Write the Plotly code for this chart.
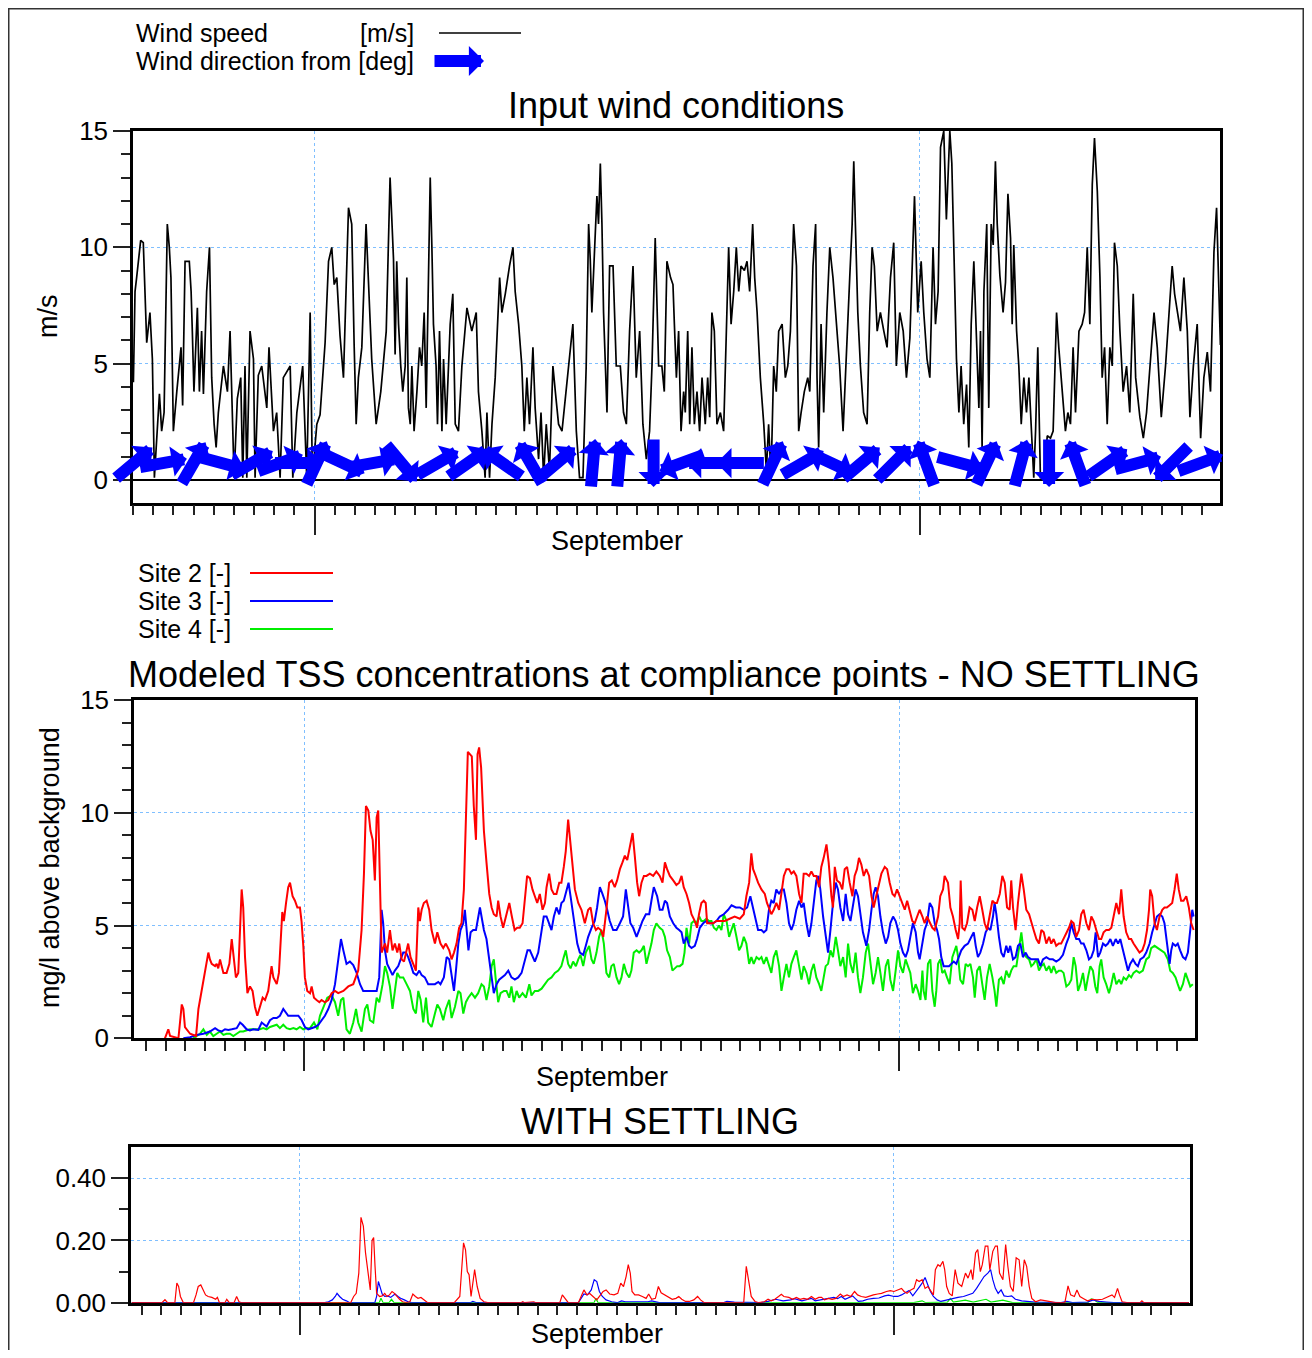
import math
import pandas as pd
import plotly.graph_objects as go

START = pd.Timestamp("2010-08-23 00:00")

# ---------------- data (day offset from START, value) ----------------
wind_speed = [(0.02,4.2),(0.10,8.1),(0.18,8.7),(0.38,10.3),(0.51,10.2),(0.60,8.0),(0.68,5.9),(0.84,7.2),(0.96,5.2),(1.06,0.1),(1.31,3.7),(1.42,2.1),(1.54,2.9),(1.70,11.0),(1.80,10.0),(1.88,8.7),(2.00,2.1),(2.17,3.8),(2.38,5.7),(2.46,3.2),(2.58,9.4),(2.79,9.4),(2.88,8.1),(2.94,6.4),(3.02,3.8),(3.19,7.4),(3.29,3.8),(3.40,6.4),(3.49,3.7),(3.65,8.1),(3.79,10.0),(3.90,4.4),(4.02,2.4),(4.12,1.4),(4.23,2.9),(4.48,4.9),(4.68,3.8),(4.81,6.4),(4.91,2.9),(5.01,0.1),(5.17,3.5),(5.34,4.4),(5.44,0.1),(5.55,4.9),(5.64,0.1),(5.80,6.4),(5.97,5.2),(6.05,0.1),(6.21,4.5),(6.38,4.9),(6.63,3.1),(6.74,5.7),(6.96,2.1),(7.12,2.9),(7.29,0.1),(7.45,4.4),(7.79,4.9),(7.92,0.1),(8.12,2.9),(8.41,4.9),(8.61,0.1),(8.78,7.2),(8.89,0.1),(9.11,2.4),(9.27,2.8),(9.52,5.9),(9.69,9.4),(9.85,10.0),(9.97,8.4),(10.10,8.7),(10.26,6.2),(10.43,4.4),(10.68,11.7),(10.84,11.0),(10.96,5.8),(11.06,2.4),(11.17,4.4),(11.34,5.7),(11.55,11.0),(11.67,8.8),(11.83,5.2),(12.05,2.4),(12.28,3.8),(12.55,6.4),
(12.74,13.0),(12.91,9.5),(12.99,5.4),(13.07,9.4),(13.16,6.7),(13.27,4.9),(13.37,3.8),(13.49,4.9),(13.57,8.7),(13.65,3.1),(13.74,2.4),(13.82,4.9),(13.93,2.1),(14.07,3.8),(14.20,5.7),(14.31,4.9),(14.43,7.2),(14.53,3.1),(14.61,6.7),(14.73,13.0),(14.81,10.1),(14.89,6.7),(15.02,4.9),(15.09,2.4),(15.19,6.4),(15.31,2.1),(15.39,5.2),(15.52,2.4),(15.72,6.7),(15.85,8.0),(15.97,2.4),(16.13,2.1),(16.30,4.9),(16.55,7.4),(16.79,6.4),(17.01,7.2),(17.12,3.8),(17.29,2.1),(17.45,0.1),(17.54,2.9),(17.67,0.1),(17.79,2.4),(17.95,4.4),(18.17,8.7),(18.28,7.2),(18.45,8.0),(18.66,9.2),(18.83,10.0),(18.94,8.1),(19.11,6.7),(19.27,4.9),(19.39,2.1),(19.52,4.4),(19.65,2.4),(19.82,5.7),(19.93,3.1),(20.10,0.9),(20.22,2.9),(20.35,0.1),(20.48,2.4),(20.64,0.4),(20.81,4.9),(20.93,3.8),(21.09,2.4),(21.26,2.1),(21.42,3.5),(21.59,4.9),(21.80,6.7),(21.97,2.1),(22.13,0.1),(22.30,0.1),(22.46,4.9),(22.58,11.0),(22.66,9.5),(22.74,7.2),(22.86,10.0),(22.99,12.2),(23.07,11.0),(23.16,13.6),(23.24,11.0),(23.32,7.2),(23.49,2.9),(23.62,9.2),(23.79,9.2),(23.95,4.9),(24.15,4.9),(24.31,2.9),(24.45,2.4),(24.61,6.4),(24.78,9.2),(24.94,4.4),(25.11,6.4),(25.27,2.4),(25.44,0.9),(25.60,2.1),(25.72,4.9),(25.88,10.4),(26.05,4.9),(26.21,4.9),(26.33,3.8),(26.46,9.4),(26.64,8.7),
(26.76,8.4),(26.83,6.7),(26.93,4.4),(27.04,6.4),(27.16,2.1),(27.29,3.8),(27.37,2.9),(27.49,6.4),(27.59,2.4),(27.70,5.7),(27.82,2.4),(27.95,3.8),(28.08,2.1),(28.20,4.4),(28.36,2.4),(28.48,4.4),(28.58,2.7),(28.69,7.2),(28.81,6.4),(28.94,2.4),(29.11,2.9),(29.27,2.1),(29.40,6.4),(29.52,10.0),(29.64,6.7),(29.77,8.1),(29.90,10.0),(30.02,8.1),(30.13,9.2),(30.30,9.0),(30.43,9.4),(30.56,8.1),(30.71,11.0),(30.81,8.7),(30.93,7.2),(31.09,4.4),(31.26,2.4),(31.39,0.4),(31.50,2.4),(31.62,0.1),(31.75,4.9),(31.88,3.8),(32.00,6.4),(32.17,6.7),(32.33,4.4),(32.45,4.9),(32.58,6.4),(32.74,11.0),(32.88,9.2),(32.99,2.1),(33.11,2.9),(33.27,3.8),(33.44,4.4),(33.54,3.8),(33.70,9.2),(33.83,11.0),(33.90,4.4),(33.98,1.4),(34.10,6.7),(34.23,2.9),(34.39,7.2),(34.53,10.0),(34.69,8.7),(34.86,6.7),(35.02,4.9),(35.19,2.1),(35.36,5.2),(35.52,8.7),(35.64,11.0),(35.72,13.7),(35.80,11.0),(35.92,7.2),(36.05,4.9),(36.21,2.9),(36.38,2.4),(36.51,7.2),(36.63,10.0),(36.74,9.2),(36.88,6.4),(37.04,7.2),(37.21,6.4),(37.37,5.7),(37.54,8.7),(37.70,10.2),(37.83,4.9),(38.00,7.2),(38.17,6.4),(38.33,4.4),(38.50,6.1),(38.63,10.0),(38.73,12.2),(38.89,7.2),(39.06,9.4),(39.19,7.2),(39.35,5.2),(39.49,4.4),(39.65,10.0),(39.77,6.7),(39.90,8.1),(40.02,14.3),(40.18,15.0),(40.31,11.2),(40.48,15.0),
(40.58,13.6),(40.71,9.5),(40.81,5.2),(40.93,2.9),(41.04,4.9),(41.17,2.4),(41.31,4.1),(41.42,1.4),(41.54,6.7),(41.67,9.4),(41.80,6.4),(41.92,3.1),(42.00,6.4),(42.08,1.4),(42.17,8.1),(42.31,11.0),(42.41,3.1),(42.53,11.0),(42.63,10.1),(42.74,13.7),(42.83,11.0),(42.96,8.8),(43.12,7.2),(43.24,8.5),(43.36,12.3),(43.49,10.4),(43.57,6.7),(43.65,10.1),(43.79,6.4),(43.90,4.9),(44.02,2.4),(44.15,4.4),(44.28,2.9),(44.40,4.4),(44.51,2.4),(44.64,0.1),(44.73,2.1),(44.84,5.7),(44.97,0.1),(45.14,0.1),(45.31,1.9),(45.47,1.8),(45.60,2.1),(45.77,7.2),(45.88,5.7),(46.05,3.8),(46.21,2.1),(46.33,2.9),(46.46,2.4),(46.59,5.7),(46.71,2.9),(46.88,6.4),(47.04,6.7),(47.16,7.2),(47.29,10.0),(47.42,6.7),(47.54,12.7),(47.65,14.7),(47.79,12.4),(47.92,8.7),(48.03,4.4),(48.15,5.7),(48.28,2.4),(48.41,5.7),(48.53,4.9),(48.64,10.2),(48.78,9.2),(48.91,6.4),(49.07,3.8),(49.24,4.9),(49.40,2.9),(49.57,8.0),(49.69,4.4),(49.90,2.7),(50.07,1.8),(50.23,2.9),(50.40,4.9),(50.60,7.2),(50.76,5.7),(50.96,2.7),(51.17,4.9),(51.34,7.2),(51.50,9.2),(51.62,8.0),(51.75,7.2),(51.91,6.4),(52.08,8.7),(52.25,6.4),(52.38,2.7),(52.55,4.9),(52.74,6.7),(52.91,1.8),(53.07,4.4),(53.24,5.5),(53.40,3.8),(53.57,9.8),(53.70,11.7),(53.81,8.1),(53.89,5.8)]

# wind direction arrows: (day, direction the wind comes from, degrees)
wind_arrow_day = [0.05,1.5,3.0,4.4,5.9,7.3,8.2,9.1,10.4,11.9,13.3,15.1,16.6,18.3,19.7,21.0,22.8,24.1,25.8,27.2,28.6,30.1,31.7,33.2,34.6,36.1,37.7,39.3,41.0,42.3,44.0,45.4,46.8,48.3,49.8,51.5,52.9]
wind_dir_from = [230,260,210,285,240,250,270,205,295,260,320,240,235,125,150,230,185,185,0,70,90,90,205,240,295,230,225,160,285,205,195,0,160,235,255,45,250]

site2_nosettle = [(1.97,0.0),(2.14,0.4),(2.23,0.1),(2.65,0.0),(2.73,0.7),(2.82,1.5),(2.90,1.3),(2.98,0.5),(3.24,0.2),(3.54,0.1),(3.66,1.3),(3.82,2.1),(3.99,3.0),(4.16,3.8),(4.24,3.5),(4.33,3.3),(4.50,3.2),(4.58,3.3),(4.66,3.1),(4.75,3.5),(4.83,3.2),(4.92,2.9),(5.08,2.9),(5.22,3.3),(5.34,4.4),(5.42,3.8),(5.55,2.7),(5.67,2.9),(5.76,5.1),(5.84,6.6),(5.92,5.8),(6.01,3.6),(6.13,2.0),(6.26,2.3),(6.39,2.1),(6.51,1.4),(6.63,1.0),(6.76,1.4),(6.90,1.8),(7.02,1.7),(7.18,2.1),(7.35,3.2),(7.44,2.7),(7.61,2.4),(7.72,2.9),(7.89,5.6),(7.97,5.2),(8.08,6.0),(8.19,6.7),(8.28,6.9),(8.41,6.3),(8.53,6.1),(8.65,5.8),(8.78,5.8),(8.86,5.2),(8.95,4.1),(9.03,2.7),(9.15,2.1),(9.29,2.0),(9.37,2.3),(9.49,1.8),(9.62,1.7),(9.76,1.6),(9.87,1.7),(10.04,1.6),(10.21,1.7),(10.38,2.0),(10.55,2.1),(10.71,2.0),(10.97,2.1),(11.22,2.3),(11.47,2.4),(11.72,3.0),(11.89,4.8),(12.01,7.3),(12.11,10.3),(12.23,10.1),(12.34,9.2),(12.45,8.8),(12.56,7.0),(12.65,9.8),(12.73,10.1),(12.80,7.0),
(12.90,3.8),(13.07,4.2),(13.18,3.8),(13.32,4.8),(13.45,3.9),(13.57,4.2),(13.69,3.8),(13.79,4.2),(13.91,3.5),(14.03,3.4),(14.13,3.8),(14.24,4.2),(14.36,3.6),(14.50,3.3),(14.63,3.0),(14.75,5.8),(14.83,5.2),(14.92,5.7),(15.03,6.0),(15.17,6.1),(15.30,5.7),(15.42,4.8),(15.59,4.2),(15.71,4.7),(15.87,4.2),(16.01,4.0),(16.14,4.2),(16.31,3.9),(16.43,3.5),(16.55,3.8),(16.68,4.2),(16.81,4.9),(16.93,5.1),(17.05,6.6),(17.15,9.5),(17.25,12.7),(17.35,12.6),(17.45,12.5),(17.55,10.3),(17.66,8.8),(17.74,12.6),(17.82,12.9),(17.92,12.0),(18.06,9.2),(18.19,7.8),(18.33,6.4),(18.45,5.8),(18.56,5.5),(18.70,5.4),(18.78,6.1),(18.90,5.4),(19.03,4.9),(19.20,5.5),(19.34,6.0),(19.47,5.4),(19.61,4.8),(19.74,4.9),(19.87,4.9),(20.01,5.1),(20.13,6.4),(20.24,7.2),(20.38,7.1),(20.51,6.6),(20.63,6.3),(20.75,6.0),(20.88,6.4),(21.02,5.7),(21.14,6.0),(21.22,6.7),(21.35,7.3),(21.47,6.6),(21.59,6.4),(21.72,6.4),(21.86,6.9),(21.97,6.9),(22.09,7.6),(22.19,8.3),(22.31,9.7),(22.39,8.9),(22.53,7.6),(22.65,6.6),(22.82,6.0),(22.98,5.7),(23.15,5.1),(23.32,5.7),(23.44,5.8),(23.57,5.1),(23.71,4.8),(23.82,4.9),(23.96,4.8),(24.08,4.5),(24.24,5.7),(24.38,6.9),(24.51,7.0),(24.66,6.7),(24.78,7.0),(24.92,7.5),(25.05,7.8),(25.17,8.1),(25.29,7.9),(25.42,8.5),(25.56,9.1),(25.67,8.1),(25.79,6.9),(25.89,6.3),(26.01,6.9),(26.13,7.2),(26.26,7.2),
(26.43,7.3),(26.60,7.2),(26.76,7.4),(26.93,7.2),(27.07,6.9),(27.19,7.8),(27.30,7.5),(27.44,7.2),(27.61,7.0),(27.77,6.8),(27.91,6.9),(28.03,7.2),(28.14,6.7),(28.28,6.4),(28.41,6.0),(28.53,5.5),(28.70,5.2),(28.81,4.9),(28.91,5.5),(29.03,6.0),(29.15,6.1),(29.25,6.0),(29.32,5.1),(29.45,5.1),(29.62,5.1),(29.79,5.2),(29.99,5.2),(30.21,5.2),(30.46,5.3),(30.71,5.4),(30.97,5.3),(31.17,5.5),(31.30,6.3),(31.44,6.9),(31.55,8.2),(31.64,7.5),(31.77,7.2),(31.89,6.9),(32.06,6.6),(32.23,6.4),(32.34,6.0),(32.44,5.8),(32.56,5.5),(32.68,5.7),(32.81,6.0),(32.95,5.7),(33.07,6.4),(33.19,7.2),(33.32,7.5),(33.45,7.5),(33.57,7.3),(33.69,7.4),(33.82,7.2),(33.96,6.4),(34.08,6.0),(34.19,7.3),(34.33,7.3),(34.46,7.2),(34.58,7.4),(34.70,7.2),(34.83,7.2),(34.97,6.7),(35.08,7.6),(35.20,8.0),(35.34,8.6),(35.45,7.8),(35.59,6.3),(35.67,5.8),(35.76,7.6),(35.87,7.0),(36.01,6.9),(36.14,6.6),(36.26,7.5),(36.38,7.6),(36.51,6.9),(36.65,6.3),(36.76,7.2),(36.88,7.5),(36.98,8.0),(37.10,7.7),(37.22,7.2),(37.35,7.5),(37.49,7.2),(37.61,6.3),(37.72,5.8),(37.86,6.3),(37.99,6.9),(38.11,7.3),(38.28,7.6),(38.40,7.5),(38.53,6.9),(38.67,6.4),(38.78,6.3),(38.90,6.6),(39.03,6.3),(39.17,6.0),(39.29,5.7),(39.41,6.1),(39.54,5.7),(39.67,5.2),(39.79,5.1),(39.91,5.4),
(40.04,5.7),(40.18,5.4),(40.29,5.1),(40.41,5.4),(40.55,5.1),(40.68,4.9),(40.80,4.8),(40.97,5.4),(41.08,6.3),(41.22,6.6),(41.30,7.2),(41.39,7.0),(41.47,6.9),(41.59,5.8),(41.72,5.4),(41.86,4.8),(41.98,4.4),(42.06,5.1),(42.11,7.0),(42.19,4.9),(42.31,4.8),(42.43,5.1),(42.56,5.8),(42.70,5.7),(42.82,5.2),(42.94,5.8),(43.07,6.3),(43.20,5.7),(43.32,5.1),(43.44,4.8),(43.57,5.4),(43.71,6.1),(43.82,6.0),(43.94,6.0),(44.08,6.4),(44.21,7.2),(44.33,6.9),(44.45,5.8),(44.58,5.7),(44.66,7.0),(44.75,5.8),(44.88,4.8),(45.00,6.0),(45.17,7.3),(45.29,6.6),(45.42,5.7),(45.56,5.5),(45.67,5.1),(45.79,4.8),(45.93,4.4),(46.06,4.2),(46.18,4.8),(46.30,4.7),(46.43,4.2),(46.57,4.5),(46.68,4.2),(46.80,4.4),(46.93,4.1),(47.06,4.2),(47.18,4.2),(47.30,4.4),(47.44,4.7),(47.57,4.9),(47.69,5.2),(47.81,5.1),(47.94,4.5),(48.08,4.8),(48.19,5.5),(48.31,5.7),(48.45,5.1),(48.58,4.8),(48.70,5.4),(48.82,5.2),(48.95,4.8),(49.09,4.4),(49.20,4.4),(49.32,4.7),(49.45,4.8),(49.59,4.8),(49.71,4.9),(49.83,5.4),(49.96,6.0),(50.10,5.5),(50.21,6.6),(50.33,5.4),(50.46,4.7),(50.60,4.4),(50.71,4.4),(50.83,4.2),(50.97,4.0),(51.13,3.8),(51.27,3.9),(51.39,4.2),(51.51,4.8),(51.61,5.7),(51.67,6.6),(51.77,6.3),(51.89,5.1),(52.01,4.8),(52.14,5.4),(52.28,5.7),(52.39,5.8),(52.51,5.8),(52.65,5.9),(52.78,6.0),(52.90,6.6),(53.01,7.3),(53.11,6.6),(53.23,6.1),(53.35,6.1),(53.49,6.3),(53.62,5.8),(53.74,5.1),(53.86,4.8)]

site3_nosettle = [(2.90,0.0),(3.24,0.05),(3.57,0.15),(3.91,0.2),(4.24,0.3),(4.50,0.45),(4.66,0.35),(4.83,0.3),(5.00,0.4),(5.17,0.37),(5.34,0.4),(5.59,0.45),(5.76,0.7),(5.89,0.6),(6.09,0.4),(6.26,0.35),(6.43,0.4),(6.68,0.37),(6.85,0.7),(6.97,0.6),(7.10,0.52),(7.27,0.8),(7.44,0.9),(7.61,0.9),(7.77,1.0),(7.94,1.3),(8.08,1.1),(8.19,1.0),(8.36,1.0),(8.53,1.0),(8.70,1.0),(8.87,0.8),(9.03,0.5),(9.20,0.4),(9.37,0.45),(9.54,0.5),(9.71,0.6),(9.87,0.8),(10.04,1.0),(10.21,1.3),(10.38,1.7),(10.55,2.4),(10.71,3.6),(10.85,4.4),(10.97,3.9),(11.13,3.3),(11.30,3.4),(11.47,3.25),(11.64,2.9),(11.81,2.4),(11.97,2.1),(12.14,2.1),(12.31,2.1),(12.48,2.1),(12.65,2.1),(12.78,2.7),
(12.90,5.7),(12.98,5.1),(13.07,3.9),(13.18,3.3),(13.32,3.0),(13.45,2.8),(13.57,3.0),(13.74,3.2),(13.86,3.5),(13.99,3.8),(14.13,3.8),(14.24,3.6),(14.36,3.3),(14.50,2.9),(14.66,2.8),(14.80,3.0),(14.92,2.8),(15.08,2.7),(15.25,2.4),(15.42,2.4),(15.59,2.4),(15.76,2.5),(15.87,2.4),(16.04,2.7),(16.18,3.6),(16.31,3.5),(16.43,2.7),(16.55,2.1),(16.65,3.0),(16.77,4.2),(16.88,4.8),(17.02,5.1),(17.10,5.7),(17.18,4.8),(17.28,3.9),(17.39,4.7),(17.52,4.8),(17.66,4.8),(17.77,5.4),(17.86,5.8),(17.94,5.4),(18.06,4.8),(18.19,4.4),(18.33,3.6),(18.45,2.7),(18.56,2.0),(18.70,2.4),(18.83,2.6),(18.95,2.7),(19.12,2.8),(19.29,3.0),(19.45,2.7),(19.62,2.6),(19.79,2.7),(19.96,2.9),(20.13,3.5),(20.26,3.9),(20.38,3.9),(20.51,3.6),(20.63,3.4),(20.80,3.8),(20.97,4.7),(21.08,5.4),(21.22,5.4),(21.35,5.1),(21.47,4.8),(21.59,5.4),(21.72,5.8),(21.86,5.5),(21.97,6.0),(22.09,6.1),(22.23,6.6),(22.33,6.9),(22.43,6.3),(22.53,5.7),(22.65,5.1),(22.77,4.2),(22.90,3.8),(23.07,3.7),(23.20,4.1),(23.32,4.5),(23.49,4.9),(23.65,5.2),(23.77,5.8),(23.91,6.7),(24.04,6.4),(24.16,6.1),(24.28,5.7),(24.41,5.2),(24.58,4.8),(24.75,4.8),(24.92,5.1),(25.08,5.4),(25.22,6.6),(25.34,5.7),(25.45,5.1),(25.59,4.9),(25.76,4.5),(25.89,4.8),(26.06,5.2),(26.23,5.5),(26.40,5.5),(26.51,6.1),(26.63,6.7),
(26.80,6.3),(26.93,5.7),(27.07,5.7),(27.19,6.1),(27.30,6.0),(27.44,5.4),(27.61,5.1),(27.77,4.9),(27.91,4.8),(28.03,4.7),(28.14,4.2),(28.28,4.5),(28.41,4.1),(28.53,4.0),(28.70,4.1),(28.81,4.4),(28.95,4.9),(29.12,5.1),(29.28,5.2),(29.45,5.1),(29.62,5.1),(29.79,5.2),(29.96,5.4),(30.16,5.5),(30.38,5.7),(30.55,5.9),(30.77,5.8),(30.97,5.8),(31.17,5.7),(31.34,5.8),(31.50,6.3),(31.64,5.8),(31.77,5.2),(31.89,4.8),(32.06,4.8),(32.18,4.7),(32.31,4.8),(32.44,5.7),(32.56,6.1),(32.68,6.0),(32.81,6.6),(32.95,6.4),(33.07,6.6),(33.19,6.6),(33.32,6.0),(33.45,5.1),(33.57,4.8),(33.69,5.1),(33.82,5.7),(33.96,6.1),(34.08,5.8),(34.19,6.0),(34.33,5.1),(34.46,4.5),(34.58,5.1),(34.70,6.0),(34.83,7.0),(34.93,7.2),(35.03,6.6),(35.17,5.4),(35.30,4.5),(35.42,3.8),(35.54,4.8),(35.67,6.0),(35.81,6.9),(35.92,6.6),(36.04,5.8),(36.18,5.2),(36.31,6.4),(36.43,5.5),(36.55,5.2),(36.68,6.0),(36.81,6.6),(36.93,6.3),(37.05,5.4),(37.18,4.7),(37.35,4.1),(37.49,4.8),(37.61,5.7),(37.72,6.4),(37.82,6.7),(37.94,6.3),(38.06,5.4),(38.19,4.7),(38.33,4.2),(38.45,4.5),(38.56,5.1),(38.70,5.4),(38.83,5.2),(38.95,4.8),(39.07,4.2),(39.20,3.8),(39.33,3.6),(39.45,3.9),(39.57,4.5),(39.70,5.1),(39.84,4.7),(39.96,3.8),
(40.04,3.5),(40.18,4.2),(40.29,4.8),(40.41,5.1),(40.55,6.0),(40.68,5.8),(40.80,5.1),(40.92,4.8),(41.02,4.4),(41.13,3.6),(41.25,3.2),(41.39,3.2),(41.52,3.2),(41.64,3.3),(41.76,3.4),(41.89,3.3),(42.03,3.6),(42.14,3.9),(42.31,4.1),(42.48,4.2),(42.65,4.5),(42.77,4.7),(42.87,4.1),(42.98,3.6),(43.10,3.8),(43.24,4.2),(43.37,4.7),(43.49,4.9),(43.61,4.8),(43.74,5.4),(43.82,6.0),(43.91,5.5),(44.04,4.5),(44.16,3.8),(44.28,3.6),(44.41,4.1),(44.51,3.8),(44.61,4.1),(44.75,3.5),(44.88,3.6),(45.00,4.1),(45.12,4.2),(45.25,3.6),(45.39,3.8),(45.51,3.6),(45.67,3.5),(45.84,3.5),(46.01,3.5),(46.13,3.2),(46.26,3.5),(46.43,3.6),(46.60,3.5),(46.76,3.5),(46.93,3.4),(47.10,3.5),(47.27,3.7),(47.44,4.2),(47.57,4.5),(47.69,5.1),(47.81,4.7),(47.94,4.4),(48.08,4.4),(48.19,4.2),(48.31,4.2),(48.45,3.9),(48.58,3.5),(48.70,3.6),(48.82,3.9),(48.92,4.7),(49.04,3.6),(49.15,3.8),(49.29,4.2),(49.42,4.1),(49.54,4.2),(49.66,4.4),(49.79,4.1),(49.93,4.4),(50.05,4.2),(50.16,4.4),(50.30,3.9),(50.43,3.3),(50.55,3.0),(50.66,3.3),(50.80,3.5),(50.93,3.3),(51.05,3.2),(51.17,3.5),(51.34,3.6),(51.47,3.8),(51.64,4.2),(51.77,4.7),(51.89,5.1),(52.01,5.4),(52.14,5.5),(52.28,5.4),(52.39,5.1),(52.51,4.2),(52.65,3.3),(52.73,3.9),(52.81,4.2),(52.95,4.1),(53.06,4.2),(53.18,3.9),(53.32,3.6),(53.45,3.5),(53.57,3.8),(53.69,4.8),(53.79,5.7),(53.86,5.4)]

site4_nosettle = [(3.40,0.0),(3.74,0.2),(3.91,0.4),(4.08,0.15),(4.24,0.3),(4.41,0.1),(4.58,0.2),(4.75,0.3),(4.92,0.15),(5.08,0.2),(5.25,0.2),(5.42,0.1),(5.59,0.2),(5.76,0.3),(5.92,0.3),(6.09,0.35),(6.26,0.4),(6.43,0.4),(6.60,0.4),(6.76,0.4),(6.93,0.45),(7.10,0.4),(7.27,0.5),(7.44,0.55),(7.61,0.6),(7.77,0.45),(7.94,0.6),(8.11,0.45),(8.28,0.4),(8.45,0.45),(8.61,0.4),(8.78,0.5),(8.95,0.4),(9.12,0.45),(9.29,0.45),(9.49,0.7),(9.66,0.4),(9.79,1.0),(9.96,1.4),(10.16,1.8),(10.38,1.9),(10.55,1.6),(10.71,1.0),(10.85,1.7),(10.97,1.8),(11.13,0.4),(11.30,0.2),(11.47,0.7),(11.61,1.3),(11.72,0.7),(11.89,0.3),(12.06,1.3),(12.18,1.5),(12.31,0.8),(12.48,0.7),(12.65,1.8),(12.78,1.6),
(12.95,2.4),(13.07,3.2),(13.18,2.9),(13.32,2.3),(13.45,1.3),(13.57,2.1),(13.69,2.9),(13.82,2.7),(13.99,2.7),(14.16,2.4),(14.33,2.1),(14.50,1.3),(14.63,1.1),(14.75,2.1),(14.87,1.7),(15.00,0.7),(15.14,1.8),(15.25,0.7),(15.42,0.5),(15.59,1.1),(15.71,1.5),(15.84,1.3),(16.01,0.8),(16.14,1.3),(16.31,1.7),(16.43,0.9),(16.60,1.4),(16.77,2.1),(16.88,2.0),(17.02,1.1),(17.15,1.6),(17.27,1.8),(17.44,2.0),(17.61,1.8),(17.77,2.0),(17.94,2.4),(18.06,2.3),(18.19,1.7),(18.33,2.3),(18.45,3.2),(18.56,3.5),(18.66,2.6),(18.78,1.6),(18.90,2.0),(19.07,2.1),(19.20,2.1),(19.34,1.8),(19.45,2.3),(19.57,1.6),(19.71,2.1),(19.84,1.8),(20.01,2.0),(20.18,1.8),(20.35,2.4),(20.46,1.9),(20.63,2.1),(20.80,2.1),(20.97,2.2),(21.13,2.4),(21.30,2.6),(21.47,2.7),(21.64,2.9),(21.81,3.0),(21.97,3.2),(22.09,3.6),(22.19,3.9),(22.31,3.3),(22.43,3.1),(22.56,3.4),(22.70,3.2),(22.82,3.5),(22.93,3.7),(23.07,3.2),(23.20,3.8),(23.37,4.1),(23.49,3.5),(23.60,3.3),(23.74,3.8),(23.87,4.5),(23.99,4.8),(24.11,4.2),(24.24,2.9),(24.38,2.7),(24.49,3.2),(24.61,3.3),(24.75,2.7),(24.88,2.4),(25.00,2.7),(25.12,3.3),(25.25,2.9),(25.39,2.7),(25.50,3.0),(25.62,3.8),(25.76,3.9),(25.89,3.8),(26.01,3.9),(26.13,4.1),(26.26,3.3),(26.40,3.8),(26.51,4.2),(26.63,4.8),(26.76,5.1),
(26.93,4.9),(27.07,4.8),(27.19,4.5),(27.30,3.9),(27.44,3.6),(27.57,3.0),(27.69,3.1),(27.81,3.2),(27.94,3.2),(28.08,3.3),(28.18,3.8),(28.28,4.9),(28.41,4.2),(28.53,5.1),(28.65,5.2),(28.78,5.1),(28.92,5.4),(29.03,5.2),(29.15,5.2),(29.28,5.3),(29.42,5.2),(29.54,5.2),(29.66,4.9),(29.79,4.8),(29.92,5.0),(30.04,4.8),(30.16,5.5),(30.30,5.2),(30.43,4.5),(30.55,4.8),(30.66,5.1),(30.80,4.5),(30.93,3.9),(31.05,4.1),(31.17,4.5),(31.30,4.2),(31.44,3.3),(31.55,3.6),(31.67,3.3),(31.81,3.6),(31.94,3.5),(32.06,3.6),(32.18,3.3),(32.31,3.6),(32.44,3.2),(32.56,2.9),(32.68,3.6),(32.81,3.9),(32.95,3.2),(33.07,2.1),(33.19,2.7),(33.32,3.3),(33.45,2.7),(33.57,3.3),(33.69,3.6),(33.82,3.9),(33.96,3.2),(34.08,2.6),(34.19,3.2),(34.33,2.9),(34.46,2.4),(34.58,3.0),(34.70,3.3),(34.83,2.7),(34.97,2.4),(35.08,2.1),(35.20,2.7),(35.30,3.2),(35.42,3.3),(35.54,3.9),(35.67,3.6),(35.81,4.5),(35.92,3.9),(36.04,3.2),(36.18,3.6),(36.31,2.7),(36.43,4.2),(36.55,3.3),(36.68,2.9),(36.81,3.8),(36.93,2.7),(37.05,2.0),(37.18,2.7),(37.32,3.8),(37.44,4.2),(37.56,3.2),(37.69,2.4),(37.82,2.9),(37.94,3.6),(38.06,2.9),(38.19,2.1),(38.33,3.2),(38.45,3.5),(38.56,2.6),(38.70,2.1),(38.83,3.0),(38.95,3.9),(39.07,3.2),(39.20,2.9),(39.33,3.5),(39.45,3.2),(39.57,2.9),(39.70,2.0),(39.84,2.4),(39.96,2.1),(40.08,1.7),
(40.18,3.0),(40.24,2.1),(40.34,1.7),(40.46,3.3),(40.58,3.5),(40.68,2.1),(40.80,1.4),(40.88,2.1),(40.97,3.3),(41.08,3.5),(41.18,2.9),(41.30,3.0),(41.42,2.7),(41.55,2.4),(41.69,3.6),(41.81,3.9),(41.89,4.1),(41.98,3.6),(42.09,2.6),(42.23,2.4),(42.36,3.3),(42.48,3.2),(42.60,3.3),(42.73,2.7),(42.82,1.8),(42.94,3.0),(43.07,3.2),(43.20,2.4),(43.32,1.7),(43.44,2.7),(43.57,3.3),(43.71,2.7),(43.82,2.1),(43.91,1.4),(44.04,2.6),(44.16,2.7),(44.28,2.4),(44.41,3.0),(44.55,2.7),(44.66,3.0),(44.78,3.2),(44.92,3.2),(45.05,4.1),(45.17,4.7),(45.29,3.8),(45.42,3.6),(45.56,3.5),(45.67,3.2),(45.79,3.3),(45.93,3.5),(46.06,3.0),(46.18,3.2),(46.30,3.3),(46.43,3.0),(46.57,3.2),(46.68,2.9),(46.80,3.2),(46.93,2.9),(47.06,3.0),(47.18,3.0),(47.30,2.9),(47.44,2.3),(47.57,2.4),(47.69,2.6),(47.81,3.6),(47.91,3.2),(48.03,2.1),(48.15,2.4),(48.28,2.9),(48.41,2.1),(48.53,2.7),(48.65,3.2),(48.78,3.0),(48.90,2.3),(49.00,2.0),(49.12,3.2),(49.20,3.5),(49.32,2.7),(49.45,2.4),(49.59,2.0),(49.71,2.4),(49.83,2.9),(49.96,2.4),(50.10,2.6),(50.21,2.4),(50.33,2.7),(50.46,2.6),(50.60,2.8),(50.71,2.7),(50.83,2.9),(50.97,3.0),(51.13,2.9),(51.30,3.0),(51.47,3.5),(51.61,3.6),(51.72,4.0),(51.89,4.1),(52.06,4.0),(52.23,3.9),(52.39,3.8),(52.56,3.5),(52.68,3.0),(52.81,2.9),(52.95,2.7),(53.06,2.4),(53.18,2.1),(53.32,2.4),(53.45,2.9),(53.57,2.6),(53.69,2.3),(53.82,2.4)]

site2_settle = [(0.5,0),(2.03,0),(2.18,0.01),(2.31,0),(2.68,0),(2.78,0.063),(2.87,0.052),(2.96,0.02),(3.11,0),(3.62,0),(3.75,0.025),(3.86,0.052),(3.99,0.057),(4.08,0.046),(4.23,0.025),(4.36,0.02),(4.55,0.017),(4.74,0.011),(4.83,0.017),(4.93,0),(5.21,0),(5.30,0.011),(5.43,0),(5.67,0),(5.80,0.02),(5.92,0.003),(6.05,0),(11.56,0),(11.71,0.02),(11.84,0.03),(11.97,0.095),(12.08,0.274),(12.20,0.246),(12.31,0.16),(12.44,0.095),(12.55,0.041),(12.64,0.2),(12.72,0.209),(12.79,0.117),(12.87,0.03),(13.02,0.02),(13.15,0.022),(13.28,0.03),(13.39,0.02),(13.52,0.025),(13.65,0.036),(13.77,0.03),(13.90,0.02),(14.03,0.011),(14.18,0.003),(14.36,0),(14.55,0.003),(14.70,0.028),(14.83,0.02),(14.96,0.014),(15.11,0.017),(15.30,0.009),(15.45,0),(16.79,0),(17.07,0.02),(17.26,0.192),(17.36,0.17),(17.45,0.1),(17.54,0.09),(17.64,0.02),(17.73,0.074),(17.82,0.106),(17.95,0.052),(18.10,0.014),(18.29,0.003),(18.48,0),(20.16,0),(20.25,0.003),(20.35,0),(20.81,0.003),(20.91,0),(22.12,0),(22.25,0.025),(22.40,0.011),(22.55,0),(23.06,0),(23.19,0.02),(23.34,0.041),(23.49,0.025),(23.62,0.03),(23.80,0.02),(23.99,0.009),(24.18,0.025),(24.31,0.036),(24.46,0.041),(24.64,0.028),(24.86,0.025),(25.05,0.03),(25.20,0.063),(25.34,0.052),(25.47,0.084),(25.58,0.122),(25.68,0.095),(25.77,0.036),(25.91,0.025),(26.10,0.025),(26.29,0.02),(26.48,0.014),(26.61,0.028),(26.76,0.011),(26.95,0.014),(27.10,0.052),(27.24,0.032),(27.43,0.025),(27.61,0.02),(27.80,0.011),(27.99,0.014),(28.13,0.02),(28.28,0.011),(28.47,0.004),(28.66,0.004),(28.89,0.009),(29.08,0.02),(29.23,0.009),(29.42,0),(31.41,0),(31.54,0.117),(31.66,0.063),(31.79,0.02),(31.98,0.004),(32.17,0),(32.45,0.003),(32.64,0.011),(32.80,0.006),(32.98,0.011),(33.17,0.02),(33.31,0.027),(33.44,0.02),(33.69,0.017),(33.88,0.011),(34.07,0.017),(34.26,0.011),(34.45,0.014),(34.64,0.011),(34.83,0.02),(35.02,0.011),(35.20,0.017),(35.34,0.017),(35.49,0.009),(35.68,0.014),(35.87,0.011),(36.06,0.014),(36.29,0.028),(36.44,0.02),(36.63,0.025),(36.82,0.02),(37.01,0.036),(37.16,0.025),(37.35,0.02),(37.58,0.017),(37.77,0.022),(37.96,0.025),(38.18,0.028),(38.37,0.03),(38.62,0.036),(38.81,0.039),(39.00,0.036),(39.19,0.041),(39.38,0.046),(39.51,0.036),(39.66,0.03),(39.85,0.041),(40.01,0.046),(40.14,0.074),(40.27,0.068),(40.42,0.074),(40.57,0.046),(40.71,0.052),(40.84,0.041),(40.99,0.025),(41.09,0.106),(41.22,0.122),(41.33,0.117),(41.47,0.133),(41.56,0.106),(41.66,0.052),(41.79,0.03),(41.94,0.022),(42.09,0.106),(42.23,0.063),(42.42,0.052),(42.61,0.095),(42.74,0.079),(42.89,0.106),(42.98,0.074),(43.12,0.16),(43.23,0.171),(43.36,0.1),(43.46,0.122),(43.61,0.182),(43.74,0.182),(43.84,0.106),(43.99,0.165),(44.12,0.182),(44.22,0.182),(44.33,0.095),(44.50,0.074),(44.64,0.187),(44.75,0.117),(44.88,0.052),(45.02,0.036),(45.17,0.144),(45.32,0.138),(45.45,0.052),(45.58,0.138),(45.70,0.117),(45.83,0.052),(45.96,0.014),(46.15,0.003),(46.40,0.009),(46.69,0.006),(46.87,0.003),(47.16,0),(47.63,0),(47.79,0.054),(47.92,0.025),(48.11,0.02),(48.24,0.041),(48.39,0.02),(48.58,0.013),(48.77,0.006),(49.00,0.011),(49.25,0.009),(49.53,0.011),(49.82,0.02),(50.01,0.025),(50.14,0.017),(50.29,0.046),(50.39,0.025),(50.52,0.003),(50.76,0),(51.43,0),(51.52,0.006),(51.62,0),(53.9,0)]

site3_settle = [(0.5,0),(10.25,0),(10.44,0.003),(10.63,0.009),(10.78,0.02),(10.87,0.03),(11.00,0.02),(11.15,0.011),(11.34,0.006),(11.52,0),(12.78,0),(12.87,0.02),(12.96,0.068),(13.06,0.046),(13.15,0.028),(13.28,0.02),(13.43,0.022),(13.58,0.017),(13.71,0.025),(13.80,0.028),(13.95,0.02),(14.08,0.014),(14.27,0.009),(14.46,0.003),(14.64,0),(17.6,0),(17.73,0.004),(17.92,0),(23.06,0),(23.19,0.014),(23.34,0.028),(23.52,0.025),(23.71,0.041),(23.86,0.074),(23.99,0.068),(24.12,0.036),(24.27,0.02),(24.46,0.009),(24.74,0.003),(25.02,0),(25.24,0.006),(25.43,0.003),(26.57,0.003),(26.76,0.006),(27.14,0),(30.37,0),(30.56,0.004),(30.94,0.002),(32.26,0),(32.64,0.004),(33.02,0.011),(33.40,0.006),(33.78,0.009),(33.97,0.013),(34.16,0.009),(34.35,0.006),(34.54,0.009),(34.73,0.011),(34.83,0.014),(35.02,0.006),(35.30,0.009),(35.58,0.011),(35.77,0.013),(35.96,0.017),(36.15,0.013),(36.34,0.02),(36.53,0.011),(36.72,0.017),(36.91,0.022),(37.05,0.013),(37.20,0.004),(37.43,0.006),(37.67,0.011),(37.96,0.014),(38.24,0.015),(38.53,0.022),(38.72,0.024),(39.00,0.02),(39.19,0.02),(39.38,0.025),(39.57,0.032),(39.76,0.039),(39.95,0.022),(40.08,0.032),(40.23,0.046),(40.42,0.063),(40.57,0.081),(40.71,0.057),(40.84,0.036),(40.99,0.02),(41.18,0.009),(41.37,0.004),(41.66,0.009),(41.94,0.014),(42.23,0.017),(42.51,0.02),(42.80,0.025),(42.98,0.03),(43.17,0.046),(43.36,0.063),(43.55,0.084),(43.74,0.095),(43.88,0.106),(43.99,0.074),(44.12,0.046),(44.26,0.03),(44.41,0.041),(44.56,0.022),(44.75,0.02),(44.94,0.022),(45.13,0.011),(45.45,0.006),(45.83,0.004),(46.12,0.002),(47.44,0),(47.73,0.004),(48.01,0),(48.77,0.002),(49.06,0.009),(49.34,0.004),(49.72,0.002),(50.10,0),(53.9,0)]

site4_settle = [(0.5,0),(13.0,0),(13.09,0.014),(13.2,0),(13.5,0),(13.62,0.011),(13.75,0),(23.85,0),(23.95,0.014),(24.05,0),(40.0,0),(40.42,0.006),(40.6,0),(41.7,0.002),(41.85,0.014),(42.0,0.002),(42.6,0.008),(43.0,0.002),(43.65,0.011),(43.9,0.002),(44.5,0.008),(45.0,0),(48.8,0),(48.96,0.012),(49.1,0.01),(49.3,0),(53.9,0)]

month_label = "September"

# ---------------- helpers ----------------
FONT = "Liberation Sans, Arial, Helvetica, sans-serif"
W, H = 1296, 1342


def dates(days):
    return [(START + pd.Timedelta(days=float(d))).strftime("%Y-%m-%d %H:%M:%S") for d in days]


def unzip(pts):
    return [p[0] for p in pts], [p[1] for p in pts]


def px(X):  # reference-page pixel -> paper x
    return (X - 8) / W


def py(Y):  # reference-page pixel -> paper y
    return 1 - (Y - 8) / H


fig = go.Figure()

d, v = unzip(wind_speed)
fig.add_trace(go.Scatter(x=dates(d), y=v, mode="lines", line=dict(color="black", width=1.7),
                         xaxis="x", yaxis="y", hoverinfo="skip"))

for pts, col in [(site4_nosettle, "#00ee00"), (site3_nosettle, "#0000ff"), (site2_nosettle, "#ff0000")]:
    d, v = unzip(pts)
    fig.add_trace(go.Scatter(x=dates(d), y=v, mode="lines", line=dict(color=col, width=2),
                             xaxis="x2", yaxis="y2", hoverinfo="skip"))

for pts, col in [(site4_settle, "#00ee00"), (site3_settle, "#0000ff"), (site2_settle, "#ff0000")]:
    d, v = unzip(pts)
    fig.add_trace(go.Scatter(x=dates(d), y=v, mode="lines", line=dict(color=col, width=1.2),
                             xaxis="x3", yaxis="y3", hoverinfo="skip"))

GRID = "#7fbfff"
major_x = dates([9, 39])


def xaxis(domain, anchor, rng, first_minor):
    return dict(domain=domain, anchor=anchor, type="date", range=dates(rng), automargin=False,
                tickmode="array", tickvals=major_x, showticklabels=False,
                ticks="outside", ticklen=30, tickwidth=1.5, tickcolor="#222",
                showgrid=True, gridcolor=GRID, griddash="dot", gridwidth=1,
                showline=True, mirror=True, linecolor="black", linewidth=2.5,
                zeroline=False,
                minor=dict(tickmode="array", tickvals=dates(list(range(first_minor, 54))),
                           ticks="outside", ticklen=10, tickwidth=1.5, tickcolor="#222",
                           showgrid=False))


def yaxis(domain, anchor, rng, major, labels, minor_vals, zeroline=False):
    return dict(domain=domain, anchor=anchor, range=rng, automargin=False,
                tickmode="array", tickvals=major, ticktext=labels,
                ticks="outside", ticklen=17, tickwidth=1.5, tickcolor="#222",
                tickfont=dict(size=26, color="black", family=FONT),
                showgrid=True, gridcolor=GRID, griddash="dot", gridwidth=1,
                showline=True, mirror=True, linecolor="black", linewidth=2.5,
                zeroline=zeroline, zerolinecolor="black", zerolinewidth=2,
                minor=dict(tickmode="array", tickvals=minor_vals, ticks="outside",
                           ticklen=9, tickwidth=1.5, tickcolor="#222", showgrid=False))


fig.update_layout(
    template="none",
    width=W, height=H, autosize=False, margin=dict(l=0, r=0, t=0, b=0, pad=0),
    paper_bgcolor="white", plot_bgcolor="white", showlegend=False,
    font=dict(family=FONT, color="black", size=26),
    xaxis=xaxis([px(133), px(1220)], "y", [0, 53.87], 0),
    yaxis=yaxis([py(502.7), py(131)], "x", [-0.975, 15], [0, 5, 10, 15], ["0", "5", "10", "15"],
                [v for v in range(1, 15) if v % 5], zeroline=True),
    xaxis2=xaxis([px(134), px(1195)], "y2", [0.41, 53.93], 1),
    yaxis2=yaxis([py(1038.3), py(700)], "x2", [0, 15], [0, 5, 10, 15], ["0", "5", "10", "15"],
                 [v for v in range(1, 15) if v % 5]),
    xaxis3=xaxis([px(131), px(1190)], "y3", [0.465, 53.95], 1),
    yaxis3=yaxis([py(1302.7), py(1147)], "x3", [0, 0.5], [0, 0.2, 0.4], ["0.00", "0.20", "0.40"],
                 [0.1, 0.3]),
)

ann = []


def text(x, y, s, size=26, xanchor="left", angle=0):
    ann.append(dict(x=x, y=y, xref="paper", yref="paper", text=s, showarrow=False,
                    xanchor=xanchor, yanchor="middle", textangle=angle,
                    font=dict(size=size, color="black", family=FONT)))


# legend block for wind
text(px(134), py(33), "Wind speed", 25)
text(px(416), py(33), "[m/s]", 25, xanchor="right")
text(px(134), py(61), "Wind direction from [deg]", 25)
# titles
text(px(676), py(105), "Input wind conditions", 36, xanchor="center")
text(px(664), py(674), "Modeled TSS concentrations at compliance points - NO SETTLING", 36, xanchor="center")
text(px(660), py(1121), "WITH SETTLING", 36, xanchor="center")
# axis titles
text(px(48), py(316), "m/s", 27, xanchor="center", angle=-90)
text(px(50), py(868), "mg/l above background", 27, xanchor="center", angle=-90)
# month labels
mid = dates([24])[0]
for xr, yy, anc in [("x", py(541), "middle"), ("x2", py(1077), "middle"), ("x3", 0.0, "bottom")]:
    ann.append(dict(x=mid, y=yy, xref=xr, yref="paper", text=month_label, showarrow=False,
                    xanchor="center", yanchor=anc, borderpad=0,
                    font=dict(size=27, color="black", family=FONT)))
# site legend
for i, (lab, col) in enumerate([("Site 2 [-]", "#ff0000"), ("Site 3 [-]", "#0000ff"), ("Site 4 [-]", "#00ee00")]):
    yy = py(573 + 28 * i)
    text(px(136), yy, lab, 25)
    fig.add_shape(type="line", xref="paper", yref="paper", x0=px(250), x1=px(333), y0=yy, y1=yy,
                  line=dict(color=col, width=2))

fig.add_shape(type="line", xref="paper", yref="paper", x0=px(439), x1=px(521), y0=py(33), y1=py(33),
              line=dict(color="black", width=1.5))

# arrows
L = 48
ARROW = dict(showarrow=True, text="", arrowhead=1, arrowwidth=12, arrowsize=0.42,
             arrowcolor="#0000ff", borderpad=0, standoff=0)
ann.append(dict(x=px(484), y=py(61), xref="paper", yref="paper", ax=-50, ay=0, **ARROW))
for day, frm in zip(wind_arrow_day, wind_dir_from):
    a = math.radians(90 - (frm + 180))
    c, s = math.cos(a), math.sin(a)
    ann.append(dict(x=dates([day])[0], y=0.73, xref="x", yref="y",
                    ax=-L * c, ay=L * s, xshift=L / 2 * c, yshift=L / 2 * s, **ARROW))

# outer border (left, top, right)
for x0, y0, x1, y1 in [(0, 0, 0, 1), (0, 1, 1, 1), (1, 0, 1, 1)]:
    fig.add_shape(type="line", xref="paper", yref="paper", x0=x0, y0=y0, x1=x1, y1=y1,
                  line=dict(color="#333", width=3))

fig.update_layout(annotations=ann)
fig.write_html("out.html")
